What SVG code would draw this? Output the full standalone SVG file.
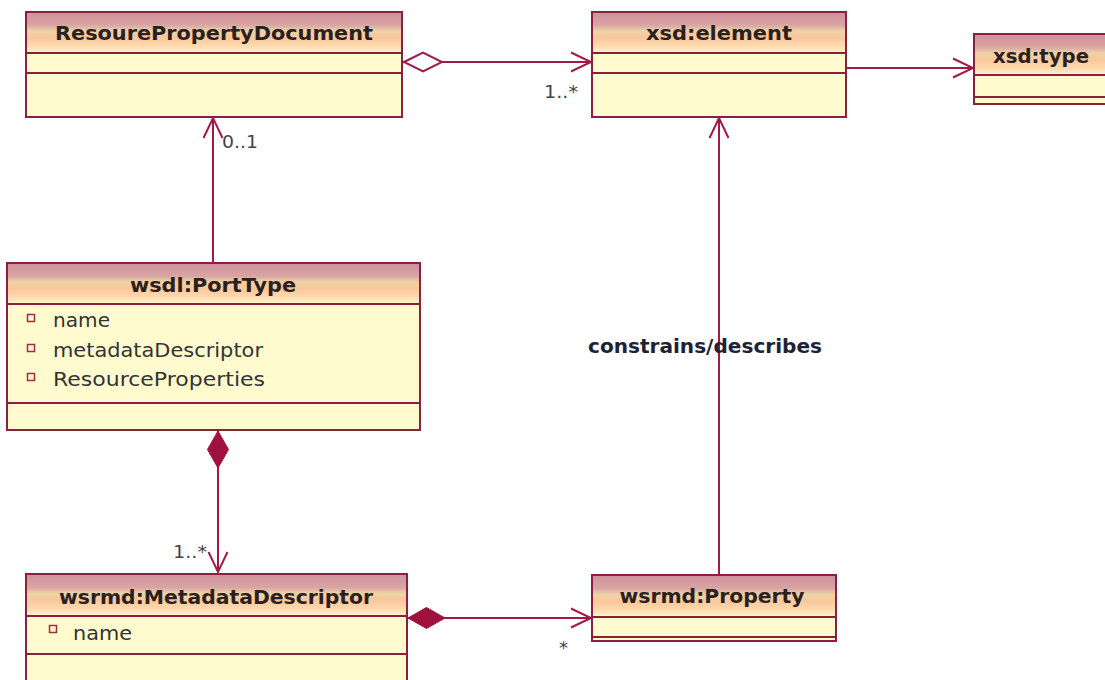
<svg xmlns="http://www.w3.org/2000/svg" width="1105" height="680" viewBox="0 0 1105 680">
<defs>
<linearGradient id="hdr" x1="0" y1="0" x2="0" y2="1">
<stop offset="0" stop-color="#cf929c"/>
<stop offset="0.3" stop-color="#d9a4a4"/>
<stop offset="0.45" stop-color="#ecd3a6"/>
<stop offset="0.62" stop-color="#fbc79c"/>
<stop offset="0.82" stop-color="#fdd9ae"/>
<stop offset="1" stop-color="#fff6cc"/>
</linearGradient>
<marker id="arrow" markerUnits="userSpaceOnUse" markerWidth="24" markerHeight="22" refX="20" refY="10" orient="auto" overflow="visible">
<path d="M0,0.5 L20,10 L0,19.5" fill="none" stroke="#a11a46" stroke-width="2"/>
</marker>
<marker id="odiamond" markerUnits="userSpaceOnUse" markerWidth="42" markerHeight="22" refX="0" refY="10" orient="auto" overflow="visible">
<path d="M1,10 L20,0.5 L39,10 L20,19.5 Z" fill="#ffffff" stroke="#a11a46" stroke-width="2"/>
</marker>
<marker id="fdiamond" markerUnits="userSpaceOnUse" markerWidth="42" markerHeight="24" refX="0" refY="10.5" orient="auto" overflow="visible">
<path d="M0,10.5 L18.5,0 L37,10.5 L18.5,21 Z" fill="#a0103f" stroke="#a0103f" stroke-width="1"/>
</marker>
</defs>
<style>
.box{fill:#fffbcf;stroke:#8b1f3f;stroke-width:2}
.hd{fill:url(#hdr)}
.sep{stroke:#8b1f3f;stroke-width:2}
.title{font-family:"DejaVu Sans","Liberation Sans",sans-serif;font-weight:bold;font-size:20px;fill:#2a2020;text-anchor:middle}
.attr{font-family:"DejaVu Sans","Liberation Sans",sans-serif;font-size:19px;fill:#333333}
.mult{font-family:"DejaVu Sans","Liberation Sans",sans-serif;font-size:18px;fill:#444444}
.lbl{font-family:"DejaVu Sans","Liberation Sans",sans-serif;font-weight:bold;font-size:19px;fill:#1e2235}
.icon{fill:#fff3e6;stroke:#a3302c;stroke-width:1.5}
.conn{fill:none;stroke:#a11a46;stroke-width:2}
</style>

<g id="connectors">
<path class="conn" d="M403,62 L591,62" marker-start="url(#odiamond)" marker-end="url(#arrow)"/>
<path class="conn" d="M847,68 L973,68" marker-end="url(#arrow)"/>
<path class="conn" d="M213,263 L213,118" marker-end="url(#arrow)"/>
<path class="conn" d="M218,431 L218,572" marker-start="url(#fdiamond)" marker-end="url(#arrow)"/>
<path class="conn" d="M408,618 L591,618" marker-start="url(#fdiamond)" marker-end="url(#arrow)"/>
<path class="conn" d="M719,575 L719,118" marker-end="url(#arrow)"/>
<text class="mult" x="544" y="98" textLength="34" lengthAdjust="spacingAndGlyphs">1..*</text>
<text class="mult" x="222" y="148" textLength="36" lengthAdjust="spacingAndGlyphs">0..1</text>
<text class="mult" x="173" y="558" textLength="34" lengthAdjust="spacingAndGlyphs">1..*</text>
<text class="mult" x="559" y="654">*</text>
<text class="lbl" x="588" y="353" textLength="234" lengthAdjust="spacingAndGlyphs">constrains/describes</text>
</g>

<g id="ResourePropertyDocument">
<rect class="box" x="26" y="12" width="376" height="105"/>
<rect class="hd" x="27" y="13" width="374" height="40"/>
<line class="sep" x1="26" y1="53" x2="402" y2="53"/>
<line class="sep" x1="26" y1="73" x2="402" y2="73"/>
<text class="title" x="214" y="40" textLength="318" lengthAdjust="spacingAndGlyphs">ResourePropertyDocument</text>
</g>

<g id="xsd-element">
<rect class="box" x="592" y="12" width="254" height="105"/>
<rect class="hd" x="593" y="13" width="252" height="40"/>
<line class="sep" x1="592" y1="53" x2="846" y2="53"/>
<line class="sep" x1="592" y1="73" x2="846" y2="73"/>
<text class="title" x="719" y="40" textLength="146" lengthAdjust="spacingAndGlyphs">xsd:element</text>
</g>

<g id="xsd-type">
<rect class="box" x="974" y="34" width="140" height="70"/>
<rect class="hd" x="975" y="35" width="138" height="40"/>
<line class="sep" x1="974" y1="75" x2="1114" y2="75"/>
<line class="sep" x1="974" y1="97" x2="1114" y2="97"/>
<text class="title" x="1041" y="63" textLength="96" lengthAdjust="spacingAndGlyphs">xsd:type</text>
</g>

<g id="wsdl-PortType">
<rect class="box" x="7" y="263" width="413" height="167"/>
<rect class="hd" x="8" y="264" width="411" height="40"/>
<line class="sep" x1="7" y1="304" x2="420" y2="304"/>
<line class="sep" x1="7" y1="403" x2="420" y2="403"/>
<text class="title" x="213" y="292" textLength="166" lengthAdjust="spacingAndGlyphs">wsdl:PortType</text>
<rect class="icon" x="27.5" y="314.5" width="7" height="7"/>
<rect class="icon" x="27.5" y="344.5" width="7" height="7"/>
<rect class="icon" x="27.5" y="373.5" width="7" height="7"/>
<text class="attr" x="53" y="327" textLength="57" lengthAdjust="spacingAndGlyphs">name</text>
<text class="attr" x="53" y="357" textLength="210" lengthAdjust="spacingAndGlyphs">metadataDescriptor</text>
<text class="attr" x="53" y="386" textLength="212" lengthAdjust="spacingAndGlyphs">ResourceProperties</text>
</g>

<g id="wsrmd-MetadataDescriptor">
<rect class="box" x="26" y="574" width="381" height="130"/>
<rect class="hd" x="27" y="575" width="379" height="41"/>
<line class="sep" x1="26" y1="616" x2="407" y2="616"/>
<line class="sep" x1="26" y1="654" x2="407" y2="654"/>
<text class="title" x="216" y="604" textLength="314" lengthAdjust="spacingAndGlyphs">wsrmd:MetadataDescriptor</text>
<rect class="icon" x="49.5" y="625.5" width="7" height="7"/>
<text class="attr" x="73" y="640" textLength="59" lengthAdjust="spacingAndGlyphs">name</text>
</g>

<g id="wsrmd-Property">
<rect class="box" x="592" y="575" width="244" height="66"/>
<rect class="hd" x="593" y="576" width="242" height="41"/>
<line class="sep" x1="592" y1="617" x2="836" y2="617"/>
<line class="sep" x1="592" y1="637" x2="836" y2="637"/>
<text class="title" x="712" y="603" textLength="185" lengthAdjust="spacingAndGlyphs">wsrmd:Property</text>
</g>
</svg>
